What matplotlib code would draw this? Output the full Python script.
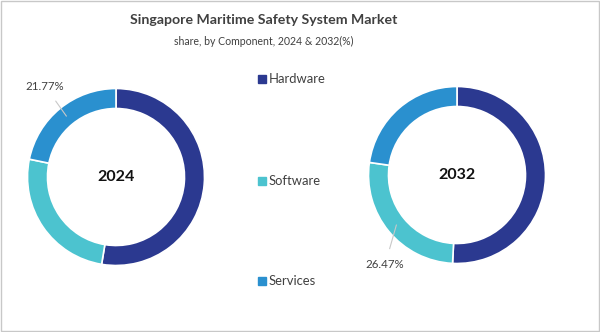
import matplotlib
matplotlib.use("Agg")
import matplotlib.pyplot as plt
import numpy as np
from matplotlib.patches import Rectangle

categories = ["Hardware", "Software", "Services"]
share_2024 = [52.6, 25.63, 21.77]
share_2032 = [50.8, 26.47, 22.73]
years = ["2024", "2032"]
colors = ["#2b3990", "#4cc3cf", "#2a90cf"]

plt.rcParams['font.family'] = ['Lato', 'DejaVu Sans']

W, H = 600, 332
fig = plt.figure(figsize=(6, 3.32), dpi=100)
ax = fig.add_axes([0, 0, 1, 1])

centers = [(116, 155), (457, 157)]
R = 88.5
ring = 20

for vals, c, yr in zip([share_2024, share_2032], centers, years):
    ax.pie(vals, colors=colors, startangle=90, counterclock=False, center=c,
           radius=R, frame=True,
           wedgeprops=dict(width=ring, edgecolor="white", linewidth=1.2))
    ax.text(c[0], c[1], yr, ha="center", va="center", fontsize=11.5,
            fontweight="bold", color="#111111")

def mid_point(vals, idx, c, r):
    start = sum(vals[:idx]) / 100 * 360
    end = sum(vals[:idx + 1]) / 100 * 360
    mid = (start + end) / 2
    ang = np.deg2rad(90 - mid)
    return c[0] + r * np.cos(ang), c[1] + r * np.sin(ang)

# 2024 services label
p = mid_point(share_2024, 2, centers[0], R - ring / 2)
ax.annotate(f"{share_2024[2]:.2f}%", xy=p, xytext=(45, 246), ha="center", va="center",
            fontsize=8.3, color="#404040",
            arrowprops=dict(arrowstyle="-", color="#c8c8c8", lw=0.8, shrinkA=6, shrinkB=0))
# 2032 software label
p = mid_point(share_2032, 1, centers[1], R - ring / 2)
ax.annotate(f"{share_2032[1]:.2f}%", xy=p, xytext=(385, 67), ha="center", va="center",
            fontsize=8.3, color="#404040",
            arrowprops=dict(arrowstyle="-", color="#c8c8c8", lw=0.8, shrinkA=6, shrinkB=0))

# legend
leg_y = [253, 151, 51]
for cat, col, y in zip(categories, colors, leg_y):
    ax.plot([262], [y], marker="s", markersize=5.5, color=col, linestyle="none")
    ax.text(269, y, cat, ha="left", va="center", fontsize=9.4, color="#404040")

ax.set_xlim(0, W)
ax.set_ylim(0, H)
ax.set_aspect("auto")
ax.axis("off")

fig.text(264 / W, 1 - 20 / H, "Singapore Maritime Safety System Market", ha="center",
         va="center", fontsize=10.2, fontweight="bold", color="#404040")
fig.text(264 / W, 1 - 41 / H, "share, by Component, 2024 & 2032(%)", ha="center",
         va="center", fontsize=7.6, color="#404040")

fig.patches.append(Rectangle((0.001, 0.002), 0.997, 0.995, transform=fig.transFigure,
                             fill=False, edgecolor="#c8c8c8", linewidth=1))

fig.savefig("out.png", dpi=100)
